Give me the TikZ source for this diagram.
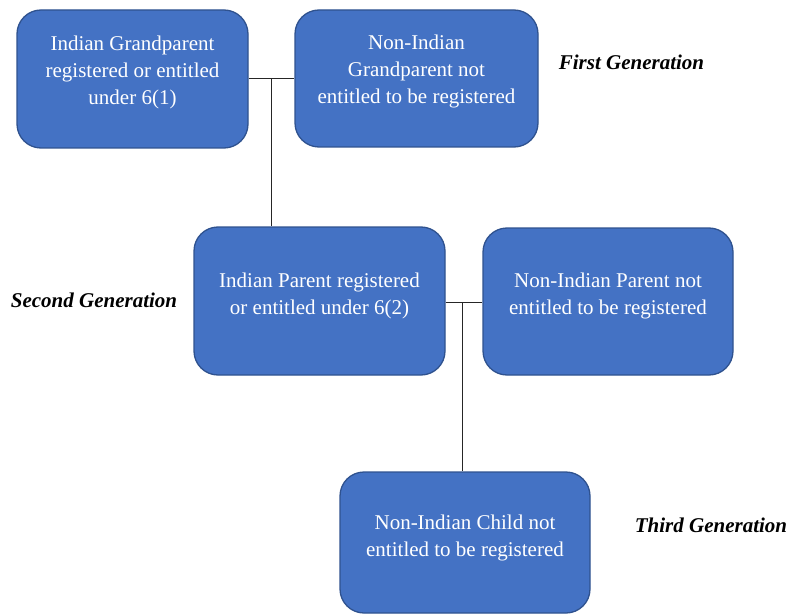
\documentclass[tikz,border=0pt]{standalone}
\usepackage{fontspec}
\setmainfont{Liberation Serif}
\definecolor{boxfill}{HTML}{4472C4}
\definecolor{boxline}{HTML}{2F528F}
\begin{document}
\begin{tikzpicture}[x=1pt,y=-1pt,
  genbox/.style={draw=boxline, line width=1.3pt, fill=boxfill, rounded corners=24pt, inner sep=0pt},
  boxtext/.style={text=white, align=center, font=\fontsize{21}{27}\selectfont},
  genlabel/.style={font=\fontsize{21}{27}\selectfont\bfseries\itshape, text=black},
  link/.style={draw=black!85, line width=1pt}]
\useasboundingbox (0,0) rectangle (790,615);
% boxes
\node[genbox, minimum width=231pt, minimum height=138pt] (gp1) at (132.5,79) {};
\node[genbox, minimum width=243pt, minimum height=137pt] (gp2) at (416.5,78.5) {};
\node[genbox, minimum width=251pt, minimum height=148pt] (p1) at (319.5,301) {};
\node[genbox, minimum width=250pt, minimum height=147pt] (p2) at (608,301.5) {};
\node[genbox, minimum width=250pt, minimum height=141pt] (c1) at (465,542.5) {};
% texts
\node[boxtext] (gp1t) at (132.5,72) {Indian Grandparent\\registered or entitled\\under 6(1)};
\node[boxtext] (gp2t) at (416.5,71.5) {Non-Indian\\Grandparent not\\entitled to be registered};
\node[boxtext] (p1t) at (319.5,296) {Indian Parent registered\\or entitled under 6(2)};
\node[boxtext] (p2t) at (608,296) {Non-Indian Parent not\\entitled to be registered};
\node[boxtext] (c1t) at (465,538) {Non-Indian Child not\\entitled to be registered};
% generation labels
\node[genlabel] (g1) at (631.5,62) {First Generation};
\node[genlabel] (g2) at (94,300) {Second Generation};
\node[genlabel] (g3) at (711,525) {Third Generation};
% connectors
\coordinate (j1) at (271,79);
\coordinate (j2) at (462,302);
\draw[link] (gp1.east |- j1) -- (gp2.west |- j1);
\draw[link] (j1) -- (j1 |- p1.north);
\draw[link] (p1.east |- j2) -- (p2.west |- j2);
\draw[link] (j2) -- (j2 |- c1.north);
\end{tikzpicture}
\end{document}
